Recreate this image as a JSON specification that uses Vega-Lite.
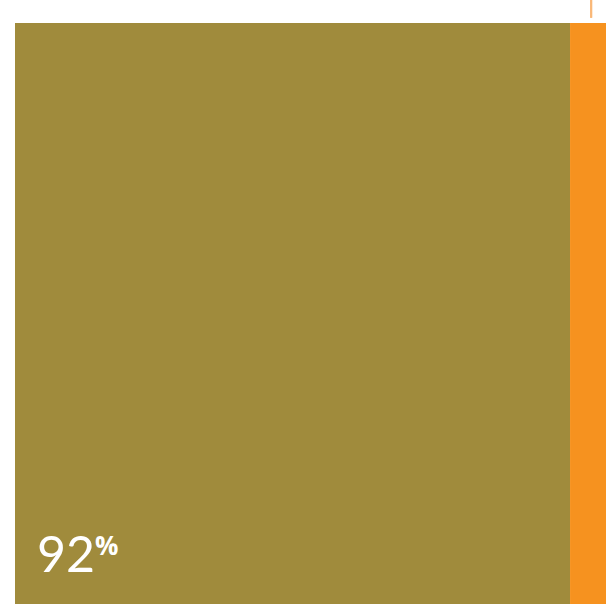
{
  "$schema": "https://vega.github.io/schema/vega-lite/v6.json",
  "width": 606,
  "height": 604,
  "autosize": "none",
  "padding": 0,
  "background": "white",
  "view": {"stroke": null},
  "data": {"values": [
    {"segment": "Yes", "start": 0, "end": 92, "label": "92"},
    {"segment": "No", "start": 92, "end": 100, "label": "8"}
  ]},
  "layer": [
    {
      "mark": {"type": "bar", "clip": true},
      "encoding": {
        "x": {"field": "start", "type": "quantitative", "scale": {"domain": [-2.486, 97.96], "nice": false, "zero": false}, "axis": null},
        "x2": {"field": "end"},
        "y": {"datum": 0, "type": "quantitative", "scale": {"domain": [0, 1.0396], "nice": false}, "axis": null},
        "y2": {"datum": 1},
        "color": {"field": "segment", "type": "nominal", "scale": {"domain": ["Yes", "No"], "range": ["#A08B3C", "#F6921F"]}, "legend": null}
      }
    },
    {
      "mark": {"type": "rule", "color": "#F9B878", "strokeWidth": 2},
      "encoding": {
        "x": {"datum": 95.5, "type": "quantitative"},
        "y": {"datum": 1.009, "type": "quantitative"},
        "y2": {"datum": 1.0396}
      }
    },
    {
      "transform": [{"filter": "datum.segment === 'Yes'"}],
      "mark": {"type": "text", "align": "left", "baseline": "alphabetic", "font": "Lato", "fontWeight": 400, "fontSize": 50, "color": "white", "dx": 22, "dy": -32},
      "encoding": {
        "x": {"field": "start", "type": "quantitative"},
        "y": {"datum": 0, "type": "quantitative"},
        "text": {"field": "label"}
      }
    },
    {
      "transform": [{"filter": "datum.segment === 'Yes'"}],
      "mark": {"type": "text", "align": "left", "baseline": "alphabetic", "font": "Open Sans", "fontWeight": "bold", "fontSize": 26, "color": "white", "dx": 80, "dy": -49, "text": "%"},
      "encoding": {
        "x": {"field": "start", "type": "quantitative"},
        "y": {"datum": 0, "type": "quantitative"}
      }
    }
  ]
}
